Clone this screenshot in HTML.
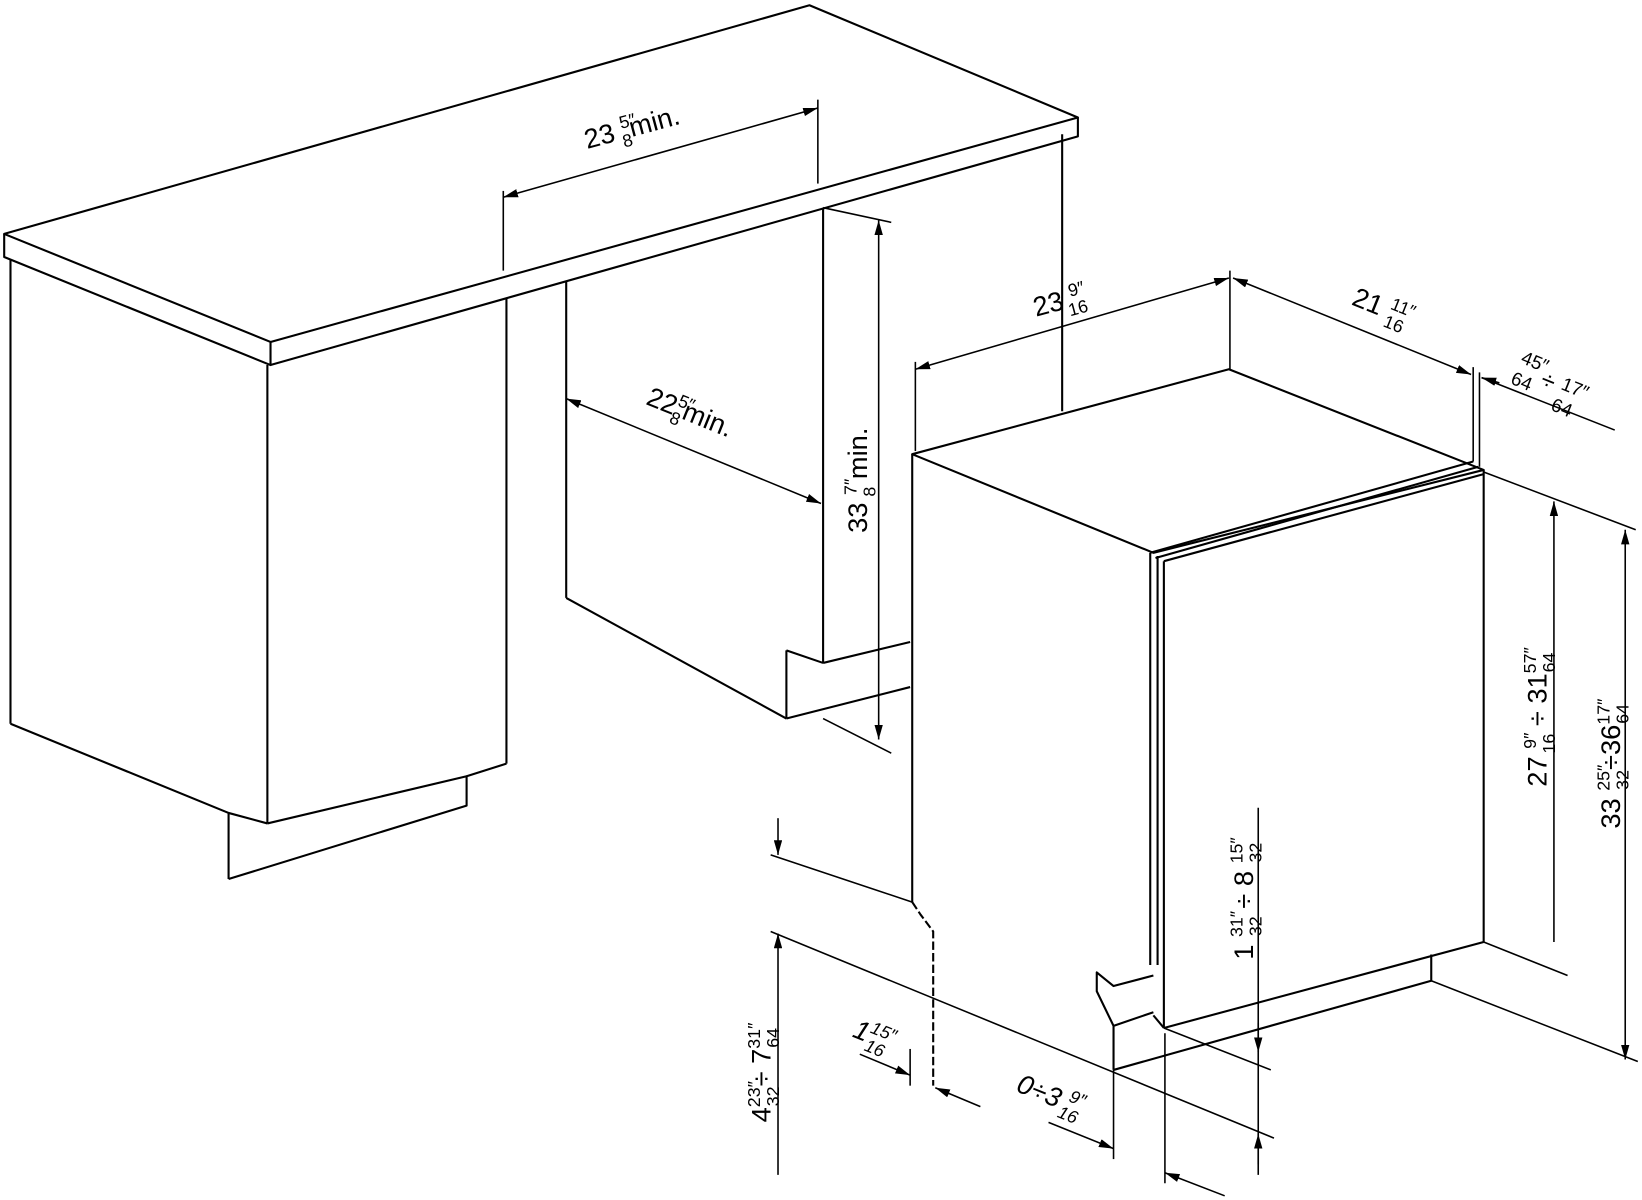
<!DOCTYPE html>
<html><head><meta charset="utf-8"><style>
html,body{margin:0;padding:0;background:#fff;}
svg{display:block}
text{font-family:"Liberation Sans",sans-serif;fill:#000}
</style></head><body>
<svg width="1642" height="1200" viewBox="0 0 1566 1144" preserveAspectRatio="none" xmlns="http://www.w3.org/2000/svg">
<defs>
<marker id="a" viewBox="0 0 14 8" refX="14" refY="4" markerWidth="14" markerHeight="8" markerUnits="userSpaceOnUse" orient="auto-start-reverse"><path d="M0,0 L14,4 L0,8 z" fill="#000"/></marker>
</defs>
<g fill="none" stroke="#000" stroke-width="2" stroke-linejoin="round">
<polygon points="4,223 772,5 1028,112 258,326"/>
<polyline points="4,223 4,245 258,348 258,326"/>
<polyline points="258,348 1028,130 1028,112"/>
<line x1="10" y1="248" x2="10" y2="690"/>
<line x1="255" y1="348" x2="255" y2="785"/>
<polyline points="10,690 218,775 255,785"/>
<line x1="218" y1="775" x2="218" y2="838"/>
<polyline points="218,838 445,768 445,740 483,728"/>
<line x1="483" y1="285" x2="483" y2="728"/>
<line x1="255" y1="785" x2="445" y2="740"/>
<line x1="540" y1="268" x2="540" y2="570"/>
<line x1="540" y1="570" x2="750" y2="685"/>
<line x1="750" y1="620" x2="750" y2="685"/>
<line x1="750" y1="620" x2="785" y2="632"/>
<line x1="785" y1="198" x2="785" y2="632"/>
<line x1="785" y1="632" x2="868" y2="612"/>
<line x1="750" y1="685" x2="868" y2="655"/>
<line x1="1013" y1="128" x2="1013" y2="392"/>
<polygon points="870,433 1172,352 1415,448 1100,527"/>
<line x1="870" y1="433" x2="870" y2="860"/>
<polyline points="870,860 878,872 890,888 890,1035" stroke-dasharray="8,3"/>
<line x1="1415" y1="448" x2="1415" y2="898"/>
<line x1="1097" y1="527" x2="1097" y2="920"/>
<line x1="1104" y1="530" x2="1104" y2="920"/>
<line x1="1110" y1="535" x2="1110" y2="980"/>
<line x1="1097" y1="527" x2="1405" y2="440"/>
<line x1="1102" y1="532" x2="1410" y2="445"/>
<line x1="1110" y1="535" x2="1415" y2="452"/>
<line x1="1110" y1="980" x2="1415" y2="898"/>
<polyline points="1365,910 1365,935 1062,1020"/>
<polyline points="1062,1020 1062,978 1100,965"/>
<polyline points="1100,930 1062,940 1046,927 1046,945 1062,978"/>
<line x1="1100" y1="968" x2="1110" y2="980"/>
<line x1="480" y1="188" x2="780" y2="103" marker-start="url(#a)" marker-end="url(#a)" stroke-width="1.5"/>
<line x1="480" y1="182" x2="480" y2="258" stroke-width="1.5"/>
<line x1="780" y1="95" x2="780" y2="175" stroke-width="1.5"/>
<line x1="838" y1="210" x2="838" y2="705" marker-start="url(#a)" marker-end="url(#a)" stroke-width="1.5"/>
<line x1="785" y1="198" x2="850" y2="212" stroke-width="1.5"/>
<line x1="785" y1="685" x2="850" y2="718" stroke-width="1.5"/>
<line x1="540" y1="380" x2="783" y2="480" marker-start="url(#a)" marker-end="url(#a)" stroke-width="1.5"/>
<line x1="873" y1="352" x2="1172" y2="265" marker-start="url(#a)" marker-end="url(#a)" stroke-width="1.5"/>
<line x1="873" y1="345" x2="873" y2="430" stroke-width="1.5"/>
<line x1="1173" y1="258" x2="1173" y2="352" stroke-width="1.5"/>
<line x1="1176" y1="265" x2="1403" y2="357" marker-start="url(#a)" marker-end="url(#a)" stroke-width="1.5"/>
<line x1="1405" y1="350" x2="1405" y2="440" stroke-width="1.5"/>
<line x1="1411" y1="355" x2="1411" y2="445" stroke-width="1.5"/>
<line x1="1413" y1="360" x2="1540" y2="410" stroke-width="1.5"/>
<line x1="1430" y1="365" x2="1413" y2="360" marker-end="url(#a)" stroke-width="1.5"/>
<line x1="1415" y1="450" x2="1560" y2="505" stroke-width="1.5"/>
<line x1="1482" y1="478" x2="1482" y2="898" marker-start="url(#a)" stroke-width="1.5"/>
<line x1="1415" y1="898" x2="1495" y2="930" stroke-width="1.5"/>
<line x1="1550" y1="505" x2="1550" y2="1010" marker-start="url(#a)" marker-end="url(#a)" stroke-width="1.5"/>
<line x1="1365" y1="935" x2="1562" y2="1012" stroke-width="1.5"/>
<line x1="1200" y1="770" x2="1200" y2="1120" stroke-width="1.5"/>
<line x1="1200" y1="975" x2="1200" y2="1003" marker-end="url(#a)" stroke-width="1.5"/>
<line x1="1200" y1="1110" x2="1200" y2="1081" marker-end="url(#a)" stroke-width="1.5"/>
<line x1="1110" y1="980" x2="1212" y2="1020" stroke-width="1.5"/>
<line x1="735" y1="815" x2="870" y2="860" stroke-width="1.5"/>
<line x1="735" y1="888" x2="1215" y2="1085" stroke-width="1.5"/>
<line x1="742" y1="780" x2="742" y2="815" marker-end="url(#a)" stroke-width="1.5"/>
<line x1="742" y1="1120" x2="742" y2="890" marker-end="url(#a)" stroke-width="1.5"/>
<line x1="820" y1="1005" x2="868" y2="1025" marker-end="url(#a)" stroke-width="1.5"/>
<line x1="935" y1="1055" x2="892" y2="1037" marker-end="url(#a)" stroke-width="1.5"/>
<line x1="868" y1="1000" x2="868" y2="1035" stroke-width="1.5"/>
<line x1="1062" y1="1020" x2="1062" y2="1105" stroke-width="1.5"/>
<line x1="1111" y1="985" x2="1111" y2="1128" stroke-width="1.5"/>
<line x1="1000" y1="1070" x2="1062" y2="1095" marker-end="url(#a)" stroke-width="1.5"/>
<line x1="1168" y1="1140" x2="1111" y2="1118" marker-end="url(#a)" stroke-width="1.5"/>
</g>
<g font-size="26">
<text transform="translate(560,142) rotate(-15)">23 <tspan font-size="17" dy="-10">5″</tspan><tspan font-size="17" dx="-17" dy="18">8</tspan><tspan dy="-8">min.</tspan></text>
<text transform="translate(615,385) rotate(22)">22<tspan font-size="17" dy="-10">5″</tspan><tspan font-size="17" dx="-17" dy="18">8</tspan><tspan dy="-8">min.</tspan></text>
<text transform="translate(827,508) rotate(-90)">33 <tspan font-size="17" dy="-10">7″</tspan><tspan font-size="17" dx="-17" dy="18">8</tspan><tspan dy="-8"> min.</tspan></text>
<text transform="translate(988,302) rotate(-15)">23 <tspan font-size="17" dy="-10">9″</tspan><tspan font-size="17" dx="-20" dy="18">16</tspan></text>
<text transform="translate(1288,290) rotate(22)">21 <tspan font-size="17" dy="-10">11″</tspan><tspan font-size="17" dx="-24" dy="18">16</tspan></text>
<text font-size="18" transform="translate(1448,345) rotate(22)"><tspan dy="0">45″</tspan><tspan dx="-28" dy="22">64</tspan><tspan font-size="24" dy="-8"> ÷ </tspan><tspan dy="-5">17″</tspan><tspan dx="-28" dy="22">64</tspan></text>
<text transform="translate(1475,750) rotate(-90)">27 <tspan font-size="17" dy="-10">9″</tspan><tspan font-size="17" dx="-20" dy="18">16</tspan><tspan dy="-8"> ÷ 31</tspan><tspan font-size="17" dy="-10">57″</tspan><tspan font-size="17" dx="-24" dy="18">64</tspan></text>
<text transform="translate(1545,790) rotate(-90)">33 <tspan font-size="17" dy="-10">25″</tspan><tspan font-size="17" dx="-24" dy="18">32</tspan><tspan dy="-8">÷36</tspan><tspan font-size="17" dy="-10">17″</tspan><tspan font-size="17" dx="-24" dy="18">64</tspan></text>
<text transform="translate(1195,915) rotate(-90)">1 <tspan font-size="17" dy="-10">31″</tspan><tspan font-size="17" dx="-24" dy="18">32</tspan><tspan dy="-8"> ÷ 8 </tspan><tspan font-size="17" dy="-10">15″</tspan><tspan font-size="17" dx="-24" dy="18">32</tspan></text>
<text transform="translate(735,1070) rotate(-90)">4<tspan font-size="17" dy="-10">23″</tspan><tspan font-size="17" dx="-24" dy="18">32</tspan><tspan dy="-8">÷ 7</tspan><tspan font-size="17" dy="-10">31″</tspan><tspan font-size="17" dx="-24" dy="18">64</tspan></text>
<text font-style="italic" transform="translate(812,988) rotate(22)">1<tspan font-size="17" dy="-10">15″</tspan><tspan font-size="17" dx="-24" dy="18">16</tspan></text>
<text font-style="italic" transform="translate(968,1040) rotate(22)">0÷3 <tspan font-size="17" dy="-10">9″</tspan><tspan font-size="17" dx="-20" dy="18">16</tspan></text>
</g>
</svg>
</body></html>
